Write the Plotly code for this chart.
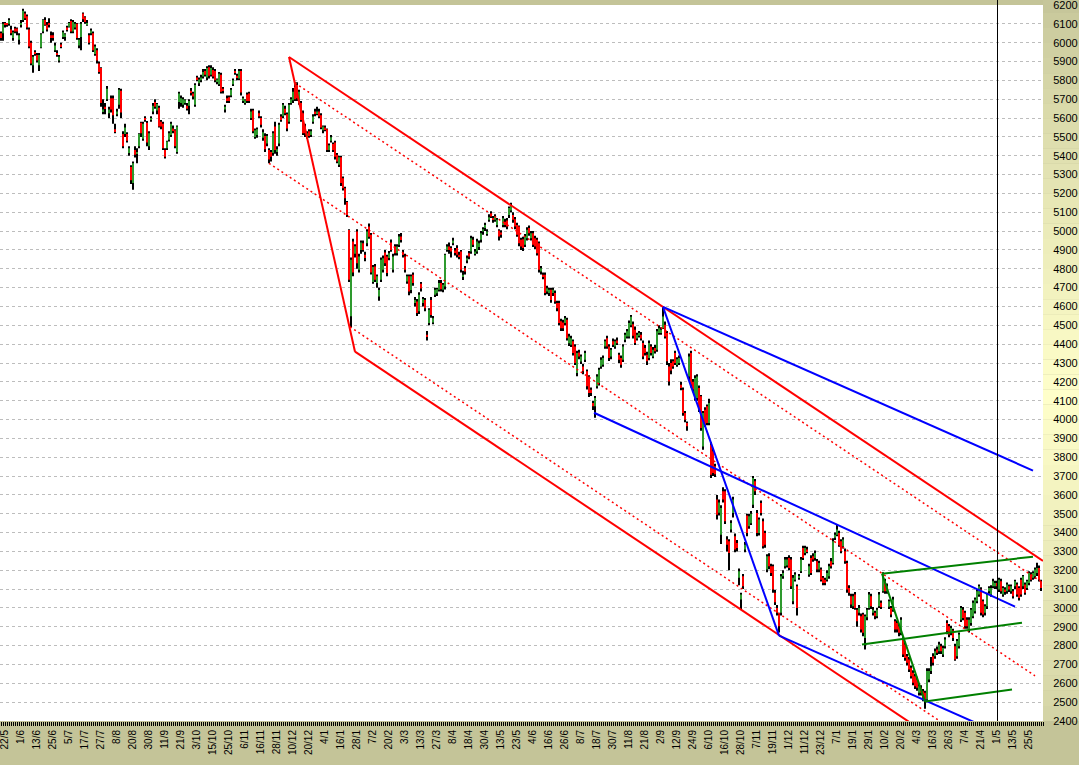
import plotly.graph_objects as go

# ---- price bars (one per trading day, bar index = position) ----
opens = [
    6050, 6050, 6100, 6100, 6100, 6070, 6025, 6075, 6075, 6015,
    6095, 6120, 6155, 6140, 6070, 6000, 5880, 5950, 5935, 5880,
    5975, 6060, 6120, 6095, 6100, 6040, 6040, 5960, 5945, 5905,
    5990, 6030, 6030, 6080, 6085, 6115, 6060, 6080, 6100, 5985,
    6030, 6155, 6135, 6095, 6040, 6050, 6050, 5940, 5960, 5890,
    5865, 5635, 5660, 5700, 5625, 5705, 5705, 5540, 5620, 5670,
    5745, 5515, 5515, 5515, 5415, 5340, 5255, 5430, 5410, 5450,
    5575, 5490, 5600, 5575, 5450, 5590, 5635, 5685, 5640, 5655,
    5580, 5570, 5430, 5440, 5485, 5510, 5545, 5535, 5420, 5685,
    5680, 5670, 5680, 5665, 5665, 5745, 5730, 5670, 5815, 5785,
    5800, 5820, 5850, 5815, 5870, 5830, 5855, 5850, 5795, 5780,
    5830, 5755, 5645, 5705, 5710, 5720, 5780, 5850, 5825, 5810,
    5850, 5690, 5680, 5725, 5730, 5600, 5640, 5500, 5510, 5625,
    5600, 5495, 5505, 5465, 5430, 5420, 5415, 5555, 5425, 5465,
    5608, 5610, 5650, 5620, 5580, 5680, 5695, 5765, 5775, 5680,
    5680, 5625, 5555, 5500, 5530, 5510, 5580, 5635, 5625, 5635,
    5615, 5535, 5550, 5540, 5430, 5480, 5462, 5470, 5405, 5352,
    5392, 5280, 5228, 5155, 5006, 4548, 4945, 4880, 4998, 4795,
    4900, 4935, 4875, 4935, 5025, 4980, 4730, 4812, 4724, 4653,
    4742, 4795, 4886, 4865, 4857, 4940, 4795, 4918, 4883, 4927,
    4971, 4883, 4865, 4733, 4760, 4688, 4768, 4618, 4626, 4574,
    4720, 4618, 4635, 4450, 4512, 4635, 4515, 4662, 4670, 4689,
    4724, 4689, 4706, 4900, 4918, 4910, 4936, 4897, 4910, 4874,
    4892, 4756, 4803, 4844, 4883, 4892, 4954, 4883, 4892, 4915,
    4954, 4998, 5016, 4989, 5060, 5092, 5068, 5060, 5033, 5003,
    4992, 5033, 5050, 5056, 5086, 5110, 5086, 5063, 5033, 5024,
    4954, 4957, 4927, 4962, 5016, 4962, 4989, 4962, 4954, 4936,
    4786, 4768, 4768, 4680, 4671, 4689, 4671, 4671, 4618, 4618,
    4521, 4515, 4512, 4530, 4405, 4397, 4415, 4388, 4247, 4356,
    4308, 4282, 4317, 4256, 4229, 4158, 4088, 4070, 4176, 4194,
    4282, 4291, 4388, 4432, 4388, 4335, 4415, 4388, 4420, 4344,
    4326, 4317, 4423, 4441, 4441, 4500, 4505, 4476, 4430, 4445,
    4450, 4406, 4380, 4344, 4326, 4388, 4335, 4380, 4370, 4459,
    4459, 4485, 4503, 4459, 4282, 4300, 4309, 4353, 4290, 4300,
    4185, 4158, 4034, 3981, 4229, 4353, 4200, 4114, 4114, 4167,
    4123, 3857, 4052, 4070, 3981, 3866, 3831, 3752, 3575, 3505,
    3389, 3619, 3619, 3363, 3354, 3416, 3504, 3380, 3345, 3160,
    3045, 3168, 3310, 3490, 3434, 3450, 3548, 3672, 3504, 3398,
    3557, 3460, 3398, 3204, 3274, 3221, 3221, 3080, 3000, 2965,
    2974, 3168, 3221, 3225, 3265, 3257, 3036, 3150, 3115, 3160,
    3195, 3318, 3292, 3310, 3177, 3265, 3274, 3265, 3248, 3204,
    3204, 3160, 3150, 3150, 3168, 3248, 3239, 3372, 3389, 3398,
    3354, 3327, 3301, 3239, 3106, 3062, 3009, 3071, 2991, 2974,
    2956, 2965, 2841, 2950, 3000, 3062, 2974, 2974, 2956, 3009,
    3027, 3089, 3142, 3089, 3006, 3000, 2991, 2930, 2920, 2903,
    2868, 2832, 2806, 2744, 2726, 2682, 2656, 2638, 2620, 2550,
    2576, 2558, 2550, 2514, 2620, 2665, 2744, 2744, 2780, 2770,
    2797, 2753, 2797, 2920, 2903, 2868, 2880, 2797, 2744, 2797,
    2938, 2991, 2974, 2938, 2885, 2920, 2956, 2983, 3036, 3071,
    3098, 3036, 2974, 3009, 3089, 3071, 3115, 3115, 3133, 3098,
    3142, 3071, 3098, 3089, 3115, 3089, 3089, 3115, 3124, 3106,
    3150, 3115, 3124, 3106, 3133, 3177, 3160, 3168, 3186, 3212, 3142,
]
highs = [
    6060, 6110, 6110, 6105, 6130, 6090, 6065, 6085, 6080, 6050,
    6120, 6180, 6165, 6150, 6080, 6010, 5935, 5960, 5945, 5945,
    6050, 6125, 6135, 6110, 6130, 6060, 6055, 6000, 5960, 5935,
    6000, 6065, 6050, 6090, 6110, 6125, 6120, 6110, 6105, 6025,
    6110, 6160, 6140, 6120, 6050, 6075, 6060, 5990, 5970, 5900,
    5870, 5700, 5680, 5770, 5660, 5720, 5720, 5570, 5650, 5760,
    5755, 5530, 5570, 5525, 5450, 5350, 5370, 5450, 5440, 5520,
    5580, 5580, 5610, 5585, 5530, 5610, 5680, 5700, 5680, 5665,
    5590, 5580, 5440, 5480, 5530, 5580, 5560, 5540, 5560, 5740,
    5720, 5710, 5700, 5680, 5700, 5760, 5740, 5785, 5825, 5815,
    5830, 5860, 5860, 5875, 5880, 5880, 5870, 5860, 5810, 5845,
    5840, 5765, 5670, 5720, 5720, 5760, 5810, 5860, 5835, 5860,
    5860, 5715, 5700, 5735, 5740, 5650, 5650, 5545, 5550, 5640,
    5610, 5540, 5520, 5515, 5440, 5430, 5530, 5580, 5450, 5575,
    5620, 5680, 5665, 5630, 5680, 5710, 5760, 5790, 5790, 5750,
    5690, 5640, 5570, 5530, 5540, 5540, 5620, 5650, 5660, 5650,
    5625, 5560, 5560, 5545, 5465, 5510, 5470, 5480, 5415, 5400,
    5400, 5290, 5235, 5160, 5010, 4860, 4960, 4930, 5010, 4880,
    4950, 4950, 4890, 5010, 5040, 4990, 4820, 4825, 4770, 4700,
    4860, 4870, 4900, 4875, 4895, 4955, 4880, 4930, 4930, 4985,
    4990, 4900, 4880, 4770, 4770, 4770, 4780, 4650, 4640, 4675,
    4730, 4650, 4645, 4470, 4590, 4650, 4550, 4700, 4700, 4740,
    4740, 4725, 4880, 4930, 4940, 4920, 4965, 4910, 4925, 4890,
    4900, 4790, 4815, 4870, 4895, 4975, 4970, 4905, 4960, 4950,
    5000, 5020, 5045, 5010, 5090, 5105, 5080, 5090, 5070, 5010,
    5005, 5080, 5065, 5070, 5130, 5150, 5100, 5075, 5045, 5030,
    4965, 4970, 4985, 5020, 5030, 5000, 5000, 4975, 4965, 4945,
    4815, 4780, 4780, 4710, 4700, 4700, 4700, 4685, 4630, 4630,
    4535, 4530, 4550, 4540, 4455, 4445, 4425, 4400, 4365, 4370,
    4345, 4295, 4365, 4265, 4235, 4170, 4100, 4125, 4240, 4275,
    4330, 4340, 4425, 4445, 4400, 4380, 4430, 4425, 4435, 4355,
    4340, 4400, 4460, 4480, 4525, 4555, 4520, 4494, 4460, 4470,
    4465, 4420, 4395, 4360, 4420, 4400, 4385, 4395, 4480, 4500,
    4490, 4598, 4520, 4470, 4300, 4320, 4320, 4365, 4330, 4340,
    4200, 4170, 4045, 3990, 4350, 4365, 4215, 4235, 4240, 4180,
    4130, 4045, 4065, 4080, 4110, 3880, 3845, 3765, 3600, 3575,
    3545, 3640, 3630, 3380, 3365, 3465, 3590, 3395, 3360, 3210,
    3080, 3180, 3350, 3500, 3500, 3515, 3700, 3685, 3520, 3480,
    3570, 3475, 3410, 3285, 3290, 3235, 3230, 3095, 3015, 2975,
    3180, 3200, 3270, 3270, 3280, 3270, 3175, 3190, 3125, 3180,
    3270, 3330, 3330, 3325, 3235, 3280, 3290, 3305, 3260, 3250,
    3215, 3170, 3160, 3200, 3235, 3265, 3370, 3400, 3440, 3410,
    3365, 3375, 3315, 3250, 3120, 3075, 3075, 3085, 3000, 3015,
    2970, 2975, 2965, 3000, 3085, 3075, 3005, 2985, 3000, 3085,
    3040, 3190, 3155, 3130, 3045, 3010, 3060, 2940, 2935, 2915,
    2950, 2845, 2820, 2755, 2740, 2695, 2670, 2650, 2635, 2600,
    2590, 2570, 2560, 2680, 2680, 2740, 2760, 2785, 2795, 2820,
    2810, 2800, 2845, 2935, 2915, 2905, 2890, 2810, 2835, 2870,
    3010, 3005, 2985, 2950, 2950, 3000, 3040, 3055, 3100, 3125,
    3110, 3045, 3020, 3080, 3115, 3120, 3155, 3145, 3145, 3160,
    3155, 3115, 3110, 3135, 3125, 3125, 3100, 3150, 3135, 3115,
    3160, 3175, 3135, 3150, 3195, 3190, 3195, 3215, 3240, 3225, 3150,
]
lows = [
    6010, 6010, 6080, 6085, 6090, 6040, 6010, 6050, 6040, 5990,
    6080, 6110, 6120, 6070, 5970, 5880, 5840, 5930, 5895, 5850,
    5970, 6050, 6090, 6060, 6080, 6000, 6010, 5950, 5925, 5895,
    5970, 6020, 6010, 6060, 6080, 6050, 6050, 6070, 6015, 5970,
    5960, 6110, 6100, 6090, 5990, 6040, 5950, 5930, 5890, 5835,
    5660, 5620, 5620, 5690, 5600, 5630, 5570, 5520, 5610, 5650,
    5600, 5440, 5500, 5470, 5400, 5250, 5220, 5390, 5360, 5440,
    5500, 5480, 5580, 5450, 5430, 5580, 5620, 5650, 5620, 5550,
    5540, 5430, 5385, 5430, 5475, 5500, 5520, 5440, 5410, 5650,
    5660, 5655, 5670, 5640, 5620, 5720, 5700, 5660, 5795, 5770,
    5790, 5810, 5820, 5800, 5810, 5820, 5810, 5790, 5780, 5770,
    5730, 5730, 5630, 5680, 5680, 5710, 5770, 5830, 5800, 5800,
    5720, 5680, 5670, 5680, 5680, 5590, 5520, 5490, 5495, 5600,
    5550, 5480, 5420, 5450, 5360, 5370, 5400, 5410, 5400, 5450,
    5580, 5600, 5615, 5530, 5570, 5670, 5680, 5690, 5690, 5670,
    5580, 5510, 5500, 5490, 5495, 5500, 5570, 5610, 5615, 5600,
    5540, 5520, 5530, 5420, 5420, 5470, 5420, 5380, 5360, 5340,
    5240, 5215, 5140, 5075, 4730, 4490, 4760, 4860, 4800, 4780,
    4880, 4890, 4840, 4920, 4960, 4770, 4720, 4730, 4700, 4630,
    4730, 4780, 4815, 4760, 4845, 4890, 4780, 4870, 4870, 4915,
    4940, 4860, 4780, 4720, 4660, 4670, 4710, 4600, 4550, 4560,
    4680, 4600, 4575, 4420, 4500, 4540, 4505, 4650, 4655, 4680,
    4680, 4675, 4690, 4890, 4880, 4860, 4925, 4870, 4860, 4850,
    4780, 4740, 4770, 4830, 4850, 4880, 4915, 4870, 4880, 4900,
    4940, 4980, 5000, 4975, 5050, 5070, 5045, 5050, 5020, 4950,
    4965, 5020, 5020, 5010, 5070, 5100, 5045, 5010, 4970, 4920,
    4900, 4895, 4915, 4950, 4975, 4950, 4915, 4905, 4870, 4780,
    4770, 4745, 4660, 4665, 4655, 4620, 4655, 4615, 4575, 4500,
    4470, 4470, 4500, 4420, 4390, 4385, 4340, 4290, 4230, 4320,
    4295, 4240, 4305, 4160, 4120, 4125, 4050, 4010, 4165, 4180,
    4270, 4280, 4375, 4375, 4310, 4320, 4385, 4375, 4395, 4300,
    4275, 4305, 4410, 4430, 4430, 4490, 4430, 4395, 4420, 4435,
    4420, 4320, 4340, 4290, 4315, 4340, 4325, 4350, 4360, 4450,
    4450, 4480, 4430, 4290, 4180, 4240, 4270, 4290, 4280, 4290,
    4155, 4020, 3985, 3940, 4210, 4170, 4145, 4100, 4100, 4040,
    3940, 3840, 3960, 3970, 3970, 3690, 3700, 3695, 3470, 3490,
    3340, 3560, 3445, 3300, 3200, 3400, 3480, 3295, 3300, 3120,
    2990, 3100, 3295, 3380, 3420, 3440, 3530, 3600, 3380, 3385,
    3490, 3315, 3320, 3190, 3205, 3170, 3080, 3015, 2960, 2870,
    2960, 3155, 3210, 3215, 3200, 3100, 3020, 3140, 2960, 3150,
    3185, 3255, 3280, 3290, 3165, 3175, 3245, 3250, 3190, 3190,
    3140, 3120, 3120, 3140, 3155, 3210, 3230, 3360, 3380, 3325,
    3290, 3315, 3235, 3080, 3065, 3000, 2995, 2990, 2900, 2960,
    2870, 2850, 2780, 2935, 2990, 2995, 2960, 2940, 2945, 3000,
    2995, 3080, 3075, 3075, 2995, 2950, 2980, 2870, 2870, 2850,
    2855, 2740, 2720, 2695, 2660, 2625, 2590, 2570, 2560, 2535,
    2535, 2505, 2465, 2500, 2605, 2650, 2695, 2730, 2750, 2755,
    2755, 2740, 2785, 2860, 2845, 2855, 2825, 2720, 2730, 2785,
    2925, 2935, 2890, 2890, 2870, 2905, 2945, 2970, 3025, 3060,
    2960, 2950, 2960, 2995, 3075, 3060, 3105, 3100, 3100, 3085,
    3075, 3060, 3070, 3075, 3085, 3075, 3050, 3100, 3060, 3040,
    3060, 3100, 3070, 3095, 3120, 3140, 3150, 3155, 3170, 3140, 3090,
]
closes = [
    6025, 6100, 6095, 6095, 6120, 6050, 6055, 6060, 6060, 6040,
    6105, 6170, 6130, 6080, 5980, 5890, 5925, 5940, 5905, 5935,
    6045, 6120, 6095, 6070, 6095, 6030, 6025, 5985, 5935, 5925,
    5980, 6055, 6045, 6070, 6105, 6060, 6110, 6100, 6025, 6015,
    6100, 6125, 6110, 6105, 6000, 6065, 5960, 5980, 5905, 5845,
    5680, 5645, 5650, 5755, 5645, 5645, 5615, 5530, 5635, 5750,
    5630, 5450, 5550, 5480, 5440, 5270, 5360, 5405, 5420, 5515,
    5520, 5570, 5590, 5470, 5520, 5600, 5665, 5660, 5675, 5555,
    5555, 5440, 5395, 5475, 5520, 5570, 5535, 5450, 5555, 5730,
    5705, 5700, 5695, 5650, 5690, 5735, 5715, 5775, 5805, 5805,
    5815, 5845, 5830, 5865, 5825, 5865, 5820, 5800, 5805, 5835,
    5740, 5745, 5660, 5695, 5690, 5750, 5800, 5840, 5815, 5850,
    5735, 5705, 5695, 5690, 5690, 5635, 5530, 5535, 5540, 5610,
    5565, 5525, 5435, 5505, 5380, 5395, 5520, 5430, 5435, 5565,
    5590, 5670, 5625, 5545, 5670, 5700, 5740, 5700, 5705, 5740,
    5590, 5520, 5520, 5520, 5505, 5530, 5608, 5622, 5635, 5608,
    5550, 5555, 5540, 5430, 5455, 5498, 5430, 5395, 5370, 5392,
    5255, 5228, 5175, 5085, 4742, 4848, 4780, 4920, 4830, 4865,
    4940, 4900, 4857, 4998, 4970, 4780, 4810, 4742, 4760, 4688,
    4848, 4856, 4830, 4777, 4883, 4900, 4865, 4883, 4918, 4971,
    4953, 4874, 4795, 4760, 4680, 4760, 4724, 4635, 4565, 4662,
    4695, 4640, 4590, 4440, 4582, 4555, 4538, 4689, 4692, 4724,
    4692, 4715, 4874, 4918, 4900, 4892, 4950, 4887, 4874, 4865,
    4795, 4768, 4786, 4856, 4865, 4962, 4927, 4892, 4945, 4936,
    4989, 5010, 5033, 4998, 5074, 5078, 5060, 5078, 5060, 4971,
    4980, 5068, 5033, 5024, 5122, 5139, 5060, 5024, 4980, 4936,
    4918, 4910, 4971, 5007, 4989, 4989, 4927, 4918, 4883, 4795,
    4803, 4759, 4671, 4697, 4689, 4635, 4689, 4627, 4591, 4512,
    4485, 4485, 4538, 4432, 4441, 4432, 4353, 4300, 4353, 4335,
    4335, 4256, 4353, 4176, 4141, 4141, 4070, 4114, 4229, 4264,
    4317, 4326, 4415, 4388, 4326, 4370, 4397, 4415, 4405, 4317,
    4291, 4388, 4450, 4468, 4512, 4545, 4445, 4406, 4450, 4459,
    4430, 4335, 4353, 4309, 4406, 4353, 4370, 4362, 4468, 4485,
    4476, 4547, 4441, 4309, 4202, 4260, 4282, 4300, 4320, 4326,
    4167, 4034, 3999, 3964, 4335, 4185, 4160, 4220, 4229, 4052,
    3955, 4034, 3972, 3981, 4088, 3707, 3716, 3710, 3495, 3560,
    3530, 3575, 3460, 3336, 3292, 3451, 3575, 3310, 3318, 3195,
    3071, 3115, 3336, 3398, 3487, 3500, 3690, 3619, 3398, 3469,
    3504, 3327, 3336, 3274, 3221, 3186, 3098, 3030, 2974, 2903,
    3168, 3186, 3257, 3257, 3212, 3115, 3160, 3177, 3000, 3168,
    3257, 3265, 3318, 3300, 3221, 3186, 3257, 3292, 3204, 3239,
    3150, 3133, 3133, 3186, 3221, 3221, 3354, 3389, 3416, 3336,
    3301, 3363, 3248, 3098, 3080, 3018, 3062, 3000, 2930, 3000,
    2885, 2868, 2956, 2990, 3071, 3009, 2991, 2956, 2991, 3071,
    3005, 3186, 3089, 3115, 3036, 2965, 3045, 2885, 2885, 2868,
    2938, 2753, 2735, 2709, 2673, 2638, 2603, 2585, 2576, 2585,
    2550, 2523, 2514, 2665, 2665, 2691, 2709, 2770, 2762, 2806,
    2770, 2788, 2832, 2876, 2859, 2894, 2840, 2726, 2824, 2859,
    3000, 2947, 2903, 2903, 2938, 2991, 3027, 3045, 3089, 3115,
    2974, 2965, 3009, 3071, 3106, 3106, 3142, 3133, 3115, 3150,
    3089, 3106, 3084, 3124, 3098, 3115, 3062, 3142, 3071, 3053,
    3071, 3168, 3080, 3142, 3186, 3150, 3186, 3204, 3212, 3150, 3106,
]

# date labels, one every 8 bars starting at bar 2
tick_labels = [
    "22/5", "1/6", "13/6", "25/6", "5/7", "17/7", "27/7", "8/8", "20/8", "30/8",
    "11/9", "21/9", "3/10", "15/10", "25/10", "6/11", "16/11", "28/11", "10/12", "20/12",
    "4/1", "16/1", "28/1", "7/2", "20/2", "3/3", "13/3", "27/3", "8/4", "18/4",
    "30/4", "13/5", "23/5", "4/6", "16/6", "26/6", "8/7", "18/7", "30/7", "11/8",
    "21/8", "2/9", "12/9", "24/9", "6/10", "16/10", "28/10", "7/11", "19/11", "1/12",
    "11/12", "23/12", "7/1", "19/1", "29/1", "10/2", "20/2", "4/3", "16/3", "26/3",
    "7/4", "21/4", "1/5", "13/5", "25/5",
]
first_label_bar = 2
label_every = 8

# drawn trend lines: anchor bars and prices
red_top_x, red_top_y = [144, 521], [5924, 3250]
red_steep_x, red_steep_y = [144, 177], [5924, 4360]
red_low_x, red_low_y = [177, 460], [4360, 2353]
red_dot_top_x, red_dot_top_y = [147, 521], [5786, 3133]
red_dot_mid_x, red_dot_mid_y = [134, 517], [5360, 2640]
red_dot_low_x, red_dot_low_y = [174.5, 475], [4492, 2360]
blue_top_x, blue_top_y = [331, 516], [4598, 3729]
blue_steep_x, blue_steep_y = [331, 389], [4598, 2853]
blue_low_x, blue_low_y = [389, 490], [2853, 2378]
blue_mid_x, blue_mid_y = [296.5, 507], [4036, 3007]
green_top_x, green_top_y = [440.5, 516], [3182, 3272]
green_mid_x, green_mid_y = [430.5, 510.5], [2806, 2922]
green_low_x, green_low_y = [462, 505.5], [2503, 2567]
green_steep_x, green_steep_y = [440.5, 462], [3182, 2503]
cursor_bar = 498.25

UP = "#2e9a2e"
DOWN = "#ff0000"
OLIVE = (196, 196, 152)
LIGHT = (255, 255, 202)

bars = list(range(len(closes)))
body_base = [min(o, c) for o, c in zip(opens, closes)]
body_len = [abs(c - o) for o, c in zip(opens, closes)]
body_col = [UP if c >= o else DOWN for o, c in zip(opens, closes)]

fig = go.Figure()
fig.add_trace(go.Bar(x=bars, base=lows, y=[h - l for h, l in zip(highs, lows)],
                     width=0.5, marker=dict(color="black", line=dict(width=0)),
                     hoverinfo="skip", showlegend=False))
fig.add_trace(go.Bar(x=bars, base=body_base, y=body_len, width=1.0,
                     marker=dict(color=body_col, line=dict(width=0)),
                     customdata=list(zip(opens, highs, lows, closes)),
                     hovertemplate="O %{customdata[0]}<br>H %{customdata[1]}<br>L %{customdata[2]}<br>C %{customdata[3]}<extra></extra>",
                     showlegend=False))

lines = [
    (red_top_x, red_top_y, "#ff0000", 2, "solid"),
    (red_steep_x, red_steep_y, "#ff0000", 2, "solid"),
    (red_low_x, red_low_y, "#ff0000", 2, "solid"),
    (red_dot_top_x, red_dot_top_y, "#ff0000", 1.5, "2px,3px"),
    (red_dot_mid_x, red_dot_mid_y, "#ff0000", 1.5, "2px,3px"),
    (red_dot_low_x, red_dot_low_y, "#ff0000", 1.5, "2px,3px"),
    (blue_top_x, blue_top_y, "#0000ff", 2, "solid"),
    (blue_steep_x, blue_steep_y, "#0000ff", 2, "solid"),
    (blue_low_x, blue_low_y, "#0000ff", 2, "solid"),
    (blue_mid_x, blue_mid_y, "#0000ff", 2, "solid"),
    (green_top_x, green_top_y, "#008000", 2, "solid"),
    (green_mid_x, green_mid_y, "#008000", 2, "solid"),
    (green_low_x, green_low_y, "#008000", 2, "solid"),
    (green_steep_x, green_steep_y, "#008000", 2, "solid"),
]
for lx, ly, col, w, dash in lines:
    fig.add_trace(go.Scatter(x=lx, y=ly, mode="lines", line=dict(color=col, width=w, dash=dash),
                             hoverinfo="skip", showlegend=False))

# gradient strip behind the price axis
shapes = []
n_strips = 48
for i in range(n_strips):
    t = (i + 0.5) / n_strips
    f = 1 - abs(t - 0.55) / 0.55
    f = max(0.0, min(1.0, f)) ** 0.8
    rgb = tuple(round(a + (b - a) * f) for a, b in zip(OLIVE, LIGHT))
    shapes.append(dict(type="rect", xref="paper", yref="paper",
                       x0=1.0, x1=1.04, y0=1.01 - (i + 1) * 1.01 / n_strips, y1=1.01 - i * 1.01 / n_strips,
                       fillcolor="rgb(%d,%d,%d)" % rgb, line=dict(width=0), layer="below"))
shapes.append(dict(type="line", xref="x", yref="paper", x0=cursor_bar, x1=cursor_bar,
                   y0=0, y1=1.01, line=dict(color="black", width=1), layer="above"))

fig.update_layout(
    width=1079, height=765,
    margin=dict(l=0, r=36, t=5, b=44),
    paper_bgcolor="rgb(%d,%d,%d)" % OLIVE,
    plot_bgcolor="white",
    barmode="overlay",
    shapes=shapes,
    font=dict(family="Arial, Liberation Sans, sans-serif", color="black"),
    xaxis=dict(
        range=[-0.5, 521], showgrid=False, zeroline=False, showline=False,
        tickmode="array",
        tickvals=[first_label_bar + label_every * j for j in range(len(tick_labels))],
        ticktext=tick_labels, tickangle=-90, tickfont=dict(size=10),
        ticklabeloverflow="allow",
        ticks="outside", ticklen=4, tickcolor="black", tickwidth=1,
        minor=dict(tickmode="linear", tick0=0, dtick=1, ticks="outside", ticklen=4,
                   tickcolor="black", tickwidth=1, showgrid=False),
    ),
    yaxis=dict(
        side="right", range=[2400, 6200], tick0=2400, dtick=100,
        showgrid=True, gridcolor="#bdbdbd", griddash="3px,3px", gridwidth=1,
        zeroline=False, showline=False, ticklabeloverflow="allow",
        ticks="outside", ticklen=7, tickcolor="rgba(0,0,0,0)",
        tickfont=dict(size=11),
    ),
)

fig.write_html("out.html", config={"displayModeBar": False},
               post_script="document.body.style.margin='0';")
